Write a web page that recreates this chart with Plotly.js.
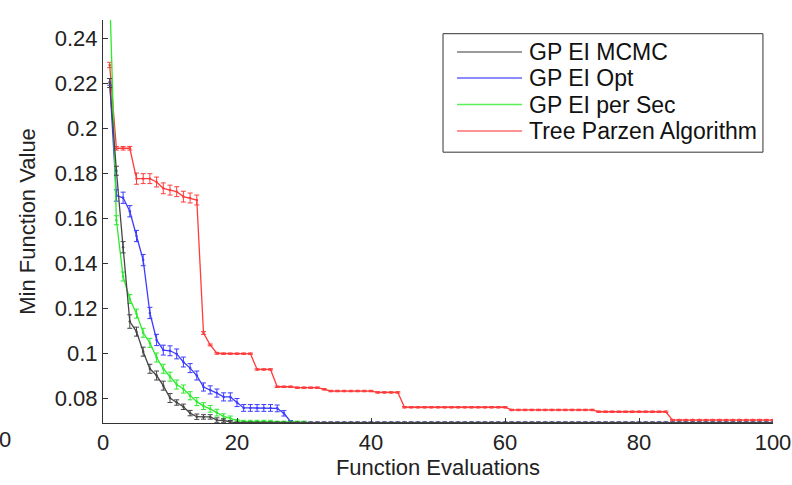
<!DOCTYPE html>
<html>
<head>
<meta charset="utf-8">
<script src="https://cdn.plot.ly/plotly-3.0.1.min.js"></script>
<style>html,body{margin:0;padding:0;background:#fff;}#chart{width:792px;height:485px;}</style>
</head>
<body>
<div id="chart"></div>
<script>
// Function evaluations 1..100
var evaluations = [];
for (var i = 1; i <= 100; i++) evaluations.push(i);

var seriesNames = ["GP EI MCMC", "GP EI Opt", "GP EI per Sec", "Tree Parzen Algorithm"];

var gpEiMcmc = [
  0.22,0.181,0.147,0.114,0.1095,0.1006,0.093,0.090,0.0855,0.080,
  0.078,0.0761,0.0733,0.0717,0.0716,0.0716,0.0702,0.070,0.0694,0.069,
  0.069,0.069,0.069,0.069,0.069,0.069,0.069,0.069,0.069,0.069,
  0.069,0.069,0.069,0.069,0.069,0.069,0.069,0.069,0.069,0.069,
  0.069,0.069,0.069,0.069,0.069,0.069,0.069,0.069,0.069,0.069,
  0.069,0.069,0.069,0.069,0.069,0.069,0.069,0.069,0.069,0.069,
  0.069,0.069,0.069,0.069,0.069,0.069,0.069,0.069,0.069,0.069,
  0.069,0.069,0.069,0.069,0.069,0.069,0.069,0.069,0.069,0.069,
  0.069,0.069,0.069,0.069,0.069,0.069,0.069,0.069,0.069,0.069,
  0.069,0.069,0.069,0.069,0.069,0.069,0.069,0.069,0.069,0.069
];
var gpEiMcmcErr = [
  0.002,0.002,0.0025,0.003,0.002,0.002,0.002,0.002,0.002,0.002,
  0.0012,0.0012,0.0012,0.0012,0.001,0.001,0.001,0.0008,0.0006,0.0003,
  0.0003,0.0003,0.0003,0.0003,0.0003,0.0003,0.0003,0.0003,0.0003,0.0003,
  0.0003,0.0003,0.0003,0.0003,0.0003,0.0003,0.0003,0.0003,0.0003,0.0003,
  0.0003,0.0003,0.0003,0.0003,0.0003,0.0003,0.0003,0.0003,0.0003,0.0003,
  0.0003,0.0003,0.0003,0.0003,0.0003,0.0003,0.0003,0.0003,0.0003,0.0003,
  0.0003,0.0003,0.0003,0.0003,0.0003,0.0003,0.0003,0.0003,0.0003,0.0003,
  0.0003,0.0003,0.0003,0.0003,0.0003,0.0003,0.0003,0.0003,0.0003,0.0003,
  0.0003,0.0003,0.0003,0.0003,0.0003,0.0003,0.0003,0.0003,0.0003,0.0003,
  0.0003,0.0003,0.0003,0.0003,0.0003,0.0003,0.0003,0.0003,0.0003,0.0003
];

var gpEiOpt = [
  0.2205,0.170,0.169,0.163,0.152,0.1413,0.1178,0.1058,0.1013,0.101,
  0.0996,0.096,0.0933,0.090,0.0849,0.0836,0.0822,0.0805,0.0805,0.078,
  0.0756,0.0756,0.0756,0.0756,0.0756,0.0754,0.0732,0.0695,0.069,0.069,
  0.069,0.069,0.069,0.069,0.069,0.069,0.069,0.069,0.069,0.069,
  0.069,0.069,0.069,0.069,0.069,0.069,0.069,0.069,0.069,0.069,
  0.069,0.069,0.069,0.069,0.069,0.069,0.069,0.069,0.069,0.069,
  0.069,0.069,0.069,0.069,0.069,0.069,0.069,0.069,0.069,0.069,
  0.069,0.069,0.069,0.069,0.069,0.069,0.069,0.069,0.069,0.069,
  0.069,0.069,0.069,0.069,0.069,0.069,0.069,0.069,0.069,0.069,
  0.069,0.069,0.069,0.069,0.069,0.069,0.069,0.069,0.069,0.069
];
var gpEiOptErr = [
  0.0015,0.0025,0.0025,0.0025,0.0025,0.0025,0.0025,0.0025,0.0022,0.0022,
  0.0022,0.0022,0.002,0.002,0.0018,0.0018,0.0018,0.0018,0.0018,0.0018,
  0.0015,0.0015,0.0015,0.0015,0.0015,0.0015,0.0012,0.0005,0.0003,0.0003,
  0.0003,0.0003,0.0003,0.0003,0.0003,0.0003,0.0003,0.0003,0.0003,0.0003,
  0.0003,0.0003,0.0003,0.0003,0.0003,0.0003,0.0003,0.0003,0.0003,0.0003,
  0.0003,0.0003,0.0003,0.0003,0.0003,0.0003,0.0003,0.0003,0.0003,0.0003,
  0.0003,0.0003,0.0003,0.0003,0.0003,0.0003,0.0003,0.0003,0.0003,0.0003,
  0.0003,0.0003,0.0003,0.0003,0.0003,0.0003,0.0003,0.0003,0.0003,0.0003,
  0.0003,0.0003,0.0003,0.0003,0.0003,0.0003,0.0003,0.0003,0.0003,0.0003,
  0.0003,0.0003,0.0003,0.0003,0.0003,0.0003,0.0003,0.0003,0.0003,0.0003
];

var gpEiPerSec = [
  0.26,0.159,0.134,0.124,0.1175,0.109,0.1045,0.098,0.093,0.0895,
  0.086,0.084,0.081,0.0784,0.0764,0.0752,0.0735,0.0718,0.071,0.070,
  0.0696,0.0696,0.0696,0.0696,0.0696,0.0693,0.0693,0.0693,0.0693,0.0693,
  0.0689,0.0689,0.0689,0.0689,0.0689,0.0689,0.0689,0.0689,0.0689,0.0689,
  0.0689,0.0689,0.0689,0.0689,0.0689,0.0689,0.0689,0.0689,0.0689,0.0689,
  0.0689,0.0689,0.0689,0.0689,0.0689,0.0689,0.0689,0.0689,0.0689,0.0689,
  0.0689,0.0689,0.0689,0.0689,0.0689,0.0689,0.0689,0.0689,0.0689,0.0689,
  0.0689,0.0689,0.0689,0.0689,0.0689,0.0689,0.0689,0.0689,0.0689,0.0689,
  0.0689,0.0689,0.0689,0.0689,0.0689,0.0689,0.0689,0.0689,0.0689,0.0689,
  0.0689,0.0689,0.0689,0.0689,0.0689,0.0689,0.0689,0.0689,0.0689,0.0689
];
var gpEiPerSecErr = [
  0.002,0.002,0.002,0.002,0.002,0.002,0.002,0.002,0.002,0.002,
  0.002,0.0018,0.0018,0.0018,0.0015,0.0015,0.0015,0.0012,0.001,0.0005,
  0.0005,0.0005,0.0005,0.0005,0.0005,0.0004,0.0004,0.0004,0.0004,0.0004,
  0.0002,0.0002,0.0002,0.0002,0.0002,0.0002,0.0002,0.0002,0.0002,0.0002,
  0.0002,0.0002,0.0002,0.0002,0.0002,0.0002,0.0002,0.0002,0.0002,0.0002,
  0.0002,0.0002,0.0002,0.0002,0.0002,0.0002,0.0002,0.0002,0.0002,0.0002,
  0.0002,0.0002,0.0002,0.0002,0.0002,0.0002,0.0002,0.0002,0.0002,0.0002,
  0.0002,0.0002,0.0002,0.0002,0.0002,0.0002,0.0002,0.0002,0.0002,0.0002,
  0.0002,0.0002,0.0002,0.0002,0.0002,0.0002,0.0002,0.0002,0.0002,0.0002,
  0.0002,0.0002,0.0002,0.0002,0.0002,0.0002,0.0002,0.0002,0.0002,0.0002
];

var treeParzen = [
  0.228,0.191,0.191,0.191,0.1775,0.1775,0.1775,0.176,0.1732,0.1724,
  0.1717,0.1695,0.1689,0.168,0.1089,0.1036,0.0999,0.0997,0.0997,0.0997,
  0.0997,0.0997,0.0927,0.0927,0.0927,0.085,0.085,0.085,0.0846,0.0846,
  0.0846,0.0846,0.0839,0.0831,0.0831,0.0831,0.0831,0.0831,0.0831,0.0831,
  0.0825,0.0825,0.0825,0.0825,0.0759,0.0759,0.0759,0.0759,0.0759,0.0759,
  0.0759,0.0759,0.0759,0.0759,0.0759,0.0759,0.0759,0.0759,0.0759,0.0759,
  0.0747,0.0747,0.0747,0.0747,0.0747,0.0747,0.0747,0.0747,0.0747,0.0747,
  0.0747,0.0747,0.0747,0.0739,0.0739,0.0739,0.0739,0.0739,0.0739,0.0739,
  0.0739,0.0739,0.0739,0.0739,0.0702,0.0702,0.0702,0.0702,0.0702,0.0702,
  0.0702,0.0702,0.0702,0.0702,0.0702,0.0702,0.0702,0.0702,0.0702,0.0702
];
var treeParzenErr = [
  0.0012,0.0008,0.0008,0.0008,0.0025,0.0022,0.0022,0.0022,0.0024,0.0022,
  0.0022,0.0024,0.0022,0.0022,0.0006,0.0004,0.0004,0.0003,0.0003,0.0003,
  0.0003,0.0003,0.0003,0.0003,0.0003,0.0003,0.0003,0.0003,0.0003,0.0003,
  0.0003,0.0003,0.0003,0.0003,0.0003,0.0003,0.0003,0.0003,0.0003,0.0003,
  0.0003,0.0003,0.0003,0.0003,0.0003,0.0003,0.0003,0.0003,0.0003,0.0003,
  0.0003,0.0003,0.0003,0.0003,0.0003,0.0003,0.0003,0.0003,0.0003,0.0003,
  0.0003,0.0003,0.0003,0.0003,0.0003,0.0003,0.0003,0.0003,0.0003,0.0003,
  0.0003,0.0003,0.0003,0.0003,0.0003,0.0003,0.0003,0.0003,0.0003,0.0003,
  0.0003,0.0003,0.0003,0.0003,0.0003,0.0003,0.0003,0.0003,0.0003,0.0003,
  0.0003,0.0003,0.0003,0.0003,0.0003,0.0003,0.0003,0.0003,0.0003,0.0003
];

var xTickVals = [0, 20, 40, 60, 80, 100];
var xTickText = ["0", "20", "40", "60", "80", "100"];
var yTickVals = [0.08, 0.1, 0.12, 0.14, 0.16, 0.18, 0.2, 0.22, 0.24];
var yTickText = ["0.08", "0.1", "0.12", "0.14", "0.16", "0.18", "0.2", "0.22", "0.24"];

var seriesValues = [gpEiMcmc, gpEiOpt, gpEiPerSec, treeParzen];
var seriesErrors = [gpEiMcmcErr, gpEiOptErr, gpEiPerSecErr, treeParzenErr];
var lineColors = ["rgb(70,70,70)", "rgb(60,60,255)", "rgb(45,235,45)", "rgb(255,60,60)"];
var legendColors = ["rgb(120,120,120)", "rgb(100,100,255)", "rgb(90,240,90)", "rgb(255,110,110)"];

var FONT = "Liberation Sans, Arial, Helvetica, sans-serif";
var FS = 22;
var traces = [];
// draw red first so the GP curves sit above it
var order = [3, 1, 2, 0];
order.forEach(function (k) {
  traces.push({
    type: "scatter", mode: "lines+markers",
    name: seriesNames[k],
    x: evaluations, y: seriesValues[k],
    line: {color: lineColors[k], width: 1.3},
    marker: {color: lineColors[k], size: 2.5},
    error_y: {type: "data", array: seriesErrors[k], visible: true,
              color: lineColors[k], thickness: 1, width: 2.5},
    showlegend: false, hoverinfo: "skip", cliponaxis: true
  });
});

// MATLAB-style legend box (paper coordinates)
var legBox = {x0: 0.5075, x1: 0.985, y0: 0.672, y1: 0.966};
var legRowY = [0.9206, 0.8561, 0.7903, 0.7246];
var legLineX = [0.5284, 0.6254];
var legTextX = 0.6328;

var shapes = [{
  type: "rect", xref: "paper", yref: "paper",
  x0: legBox.x0, x1: legBox.x1, y0: legBox.y0, y1: legBox.y1,
  line: {color: "#333", width: 1}, fillcolor: "#fff", layer: "above"
}];
var annotations = [{
  xref: "paper", yref: "paper", x: -0.146, y: -0.042,
  xanchor: "center", yanchor: "middle", showarrow: false,
  text: "0", font: {family: FONT, size: FS, color: "#222"}
}];
for (var k = 0; k < 4; k++) {
  shapes.push({
    type: "line", xref: "paper", yref: "paper",
    x0: legLineX[0], x1: legLineX[1], y0: legRowY[k], y1: legRowY[k],
    line: {color: legendColors[k], width: 1.3}, layer: "above"
  });
  annotations.push({
    xref: "paper", yref: "paper", x: legTextX, y: legRowY[k],
    xanchor: "left", yanchor: "middle", showarrow: false,
    text: seriesNames[k], font: {family: FONT, size: 23, color: "#111"}
  });
}

var layout = {
  width: 792, height: 485,
  margin: {l: 103, r: 19, t: 20, b: 62},
  paper_bgcolor: "#fff", plot_bgcolor: "#fff",
  font: {family: FONT, size: FS, color: "#222"},
  showlegend: false,
  xaxis: {
    range: [0, 100], tickmode: "array", tickvals: xTickVals, ticktext: xTickText,
    ticks: "inside", ticklen: 5, tickcolor: "#333", tickwidth: 1,
    showline: true, linecolor: "#333", linewidth: 1, mirror: false,
    showgrid: false, zeroline: false,
    tickfont: {family: FONT, size: FS, color: "#222"},
    title: {text: "Function Evaluations", font: {family: FONT, size: FS, color: "#222"}, standoff: 4}
  },
  yaxis: {
    range: [0.0689, 0.248], tickmode: "array", tickvals: yTickVals, ticktext: yTickText,
    ticks: "inside", ticklen: 5, tickcolor: "#333", tickwidth: 1,
    showline: true, linecolor: "#333", linewidth: 1, mirror: false,
    showgrid: false, zeroline: false,
    tickfont: {family: FONT, size: FS, color: "#222"},
    title: {text: "Min Function Value", font: {family: FONT, size: FS, color: "#222"}, standoff: 13}
  },
  shapes: shapes,
  annotations: annotations
};

Plotly.newPlot("chart", traces, layout, {displayModeBar: false, staticPlot: true});
</script>
</body>
</html>
